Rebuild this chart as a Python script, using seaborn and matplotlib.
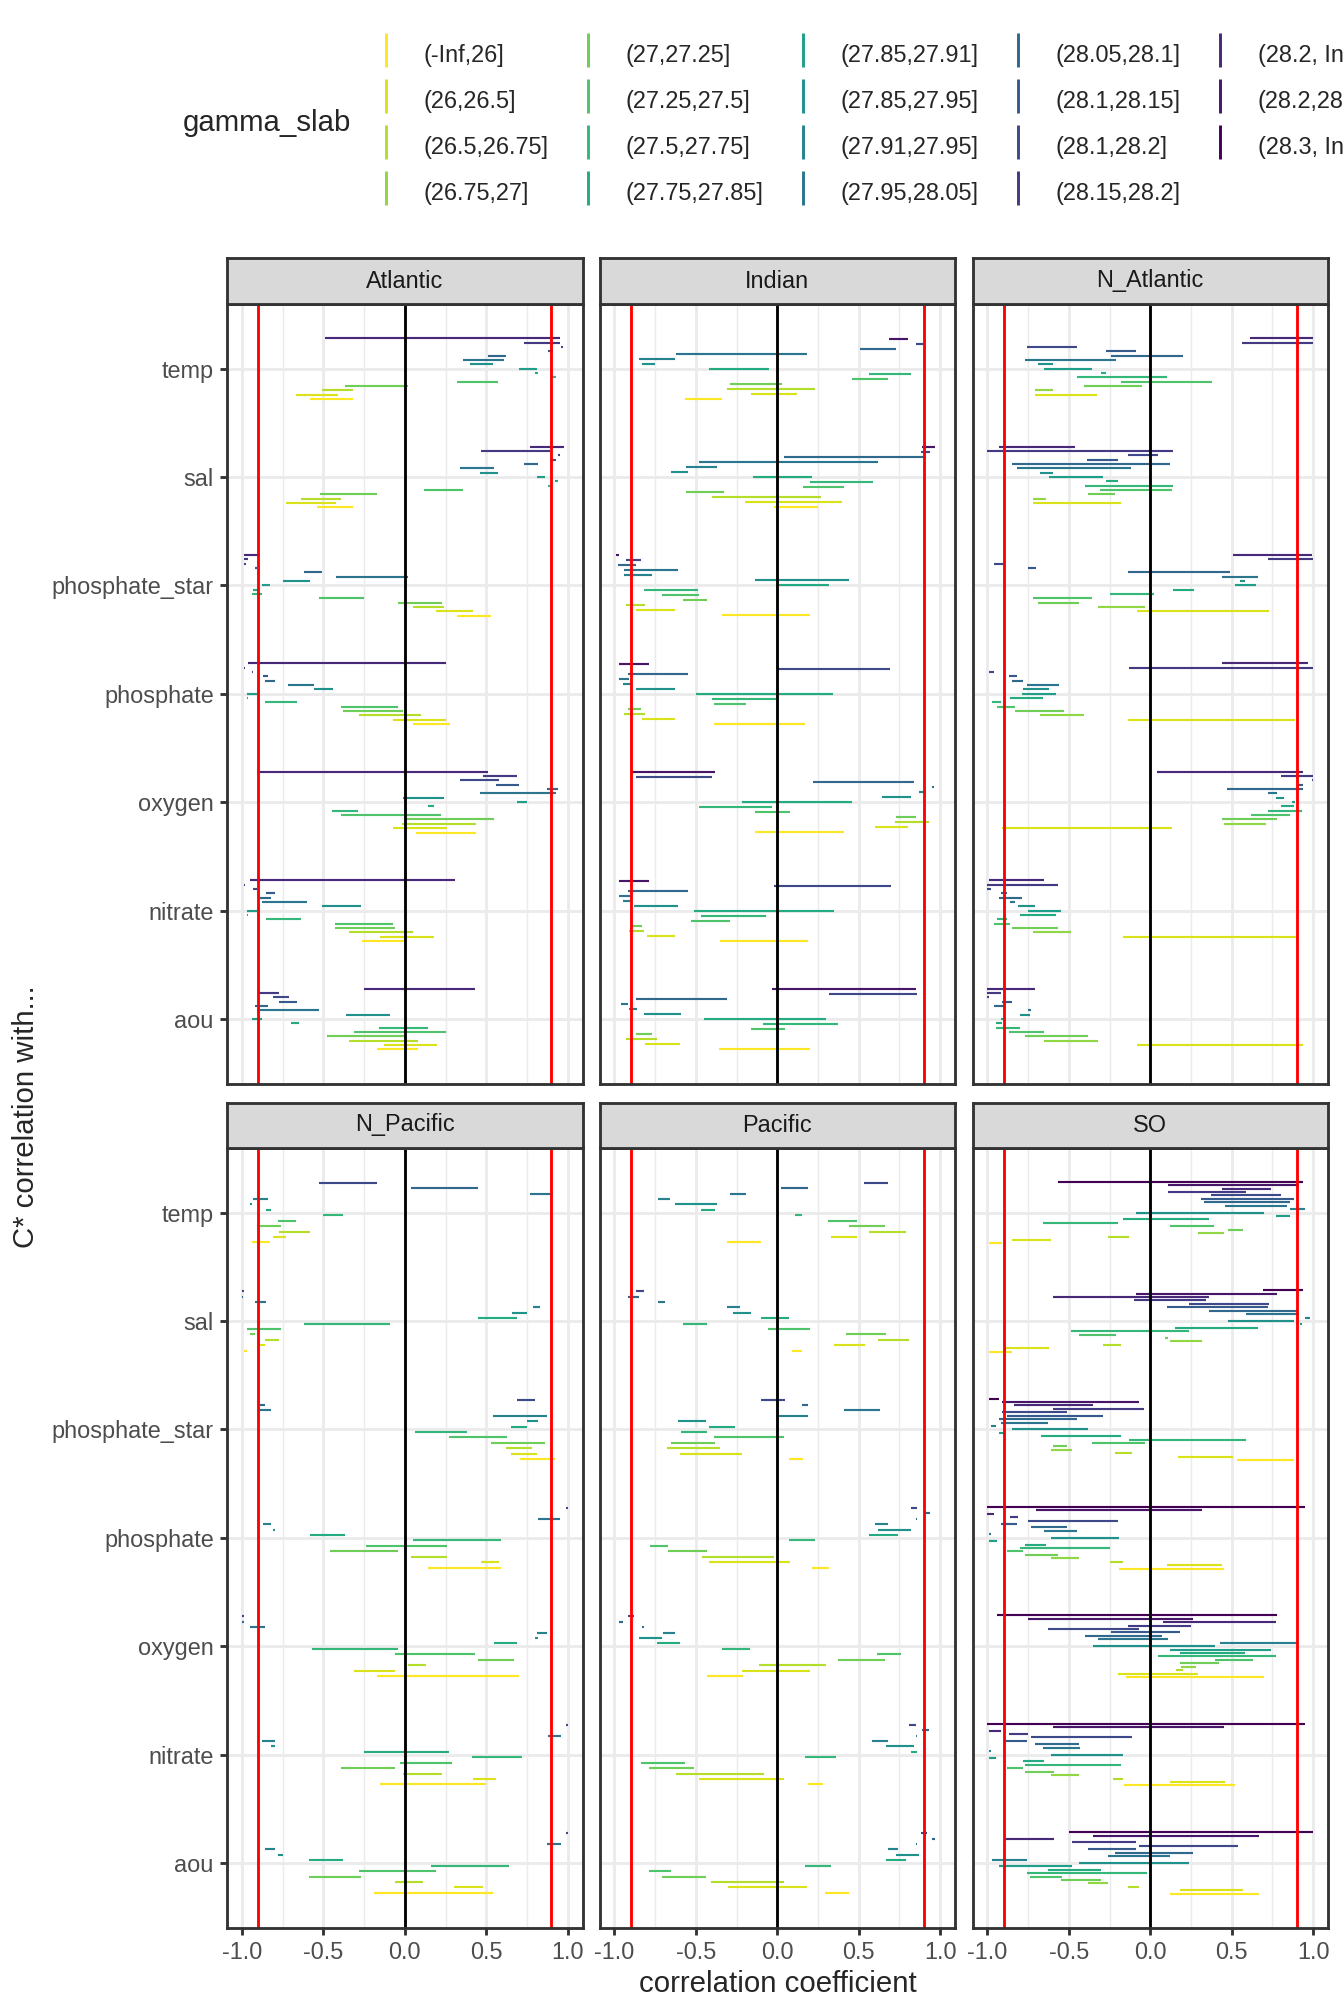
import numpy as np
import pandas as pd
import matplotlib
matplotlib.use("Agg")
import matplotlib.pyplot as plt
import seaborn as sns
from matplotlib.lines import Line2D

# ---------------- data ----------------
VARS = ["aou", "nitrate", "oxygen", "phosphate", "phosphate_star", "sal", "temp"]  # bottom -> top
BASINS = ["Atlantic", "Indian", "N_Atlantic", "N_Pacific", "Pacific", "SO"]
SLAB_LABELS = ["(-Inf,26]", "(26,26.5]", "(26.5,26.75]", "(26.75,27]", "(27,27.25]",
               "(27.25,27.5]", "(27.5,27.75]", "(27.75,27.85]", "(27.85,27.91]",
               "(27.85,27.95]", "(27.91,27.95]", "(27.95,28.05]", "(28.05,28.1]",
               "(28.1,28.15]", "(28.1,28.2]", "(28.15,28.2]", "(28.2, Inf]",
               "(28.2,28.3]", "(28.3, Inf]"]

# slab indices present in each basin, listed top row -> bottom row
ATLANTIC_SLABS = [16, 15, 14, 13, 12, 11, 9, 8, 7, 6, 5, 4, 2, 1, 0]
INDIAN_SLABS = [17, 14, 12, 11, 10, 9, 7, 6, 5, 4, 2, 1, 0]
N_ATLANTIC_SLABS = [16, 15, 14, 13, 12, 11, 9, 8, 7, 6, 5, 4, 3, 1, 0]
N_PACIFIC_SLABS = [14, 12, 11, 10, 9, 7, 6, 5, 4, 2, 1, 0]
PACIFIC_SLABS = [14, 12, 11, 10, 9, 7, 6, 5, 4, 2, 1, 0]
SO_SLABS = list(range(18, -1, -1))

# correlation ranges (min, max), rows ordered like the slab lists above
ATLANTIC = {
    "temp": [(-0.49, 0.95), (0.73, 0.95), (0.96, 0.97), (0.88, 0.91), (0.51, 0.62), (0.36, 0.61), (0.40, 0.54), (0.70, 0.81), (0.80, 0.82), (0.89, 0.93), (0.32, 0.57), (-0.37, 0.02), (-0.51, -0.32), (-0.67, -0.41), (-0.58, -0.32)],
    "sal": [(0.77, 0.98), (0.47, 0.89), (0.94, 0.95), (0.89, 0.93), (0.73, 0.82), (0.34, 0.55), (0.46, 0.57), (0.81, 0.86), (0.92, 0.94), (0.88, 0.90), (0.12, 0.36), (-0.52, -0.17), (-0.64, -0.39), (-0.73, -0.42), (-0.54, -0.32)],
    "phosphate_star": [(-0.99, -0.89), (-0.99, -0.96), (-0.985, -0.975), (-0.92, -0.91), (-0.62, -0.51), (-0.42, 0.02), (-0.75, -0.58), (-0.88, -0.83), (-0.93, -0.90), (-0.94, -0.88), (-0.53, -0.25), (-0.04, 0.23), (0.05, 0.24), (0.19, 0.42), (0.32, 0.53)],
    "phosphate": [(-0.96, 0.25), (-0.99, -0.98), (-0.94, -0.93), (-0.87, -0.84), (-0.86, -0.80), (-0.72, -0.56), (-0.56, -0.44), (-0.97, -0.91), (-0.97, -0.96), (-0.86, -0.66), (-0.39, -0.04), (-0.38, -0.01), (-0.28, 0.10), (-0.07, 0.25), (0.05, 0.28)],
    "oxygen": [(-0.91, 0.51), (0.48, 0.69), (0.34, 0.58), (0.56, 0.70), (0.87, 0.94), (0.46, 0.93), (-0.01, 0.24), (0.69, 0.75), (0.14, 0.18), (-0.45, -0.29), (-0.39, 0.22), (0.00, 0.55), (-0.02, 0.44), (-0.07, 0.26), (0.07, 0.44)],
    "nitrate": [(-0.95, 0.31), (-0.99, -0.98), (-0.93, -0.91), (-0.85, -0.80), (-0.89, -0.82), (-0.88, -0.60), (-0.51, -0.27), (-0.97, -0.91), (-0.97, -0.96), (-0.85, -0.64), (-0.43, -0.07), (-0.43, -0.06), (-0.34, 0.05), (-0.15, 0.18), (-0.26, 0.01)],
    "aou": [(-0.25, 0.43), (-0.90, -0.77), (-0.81, -0.71), (-0.77, -0.66), (-0.92, -0.84), (-0.91, -0.53), (-0.36, -0.09), (-0.94, -0.88), (-0.70, -0.65), (-0.16, 0.14), (-0.31, 0.25), (-0.48, 0.01), (-0.34, 0.08), (-0.13, 0.20), (-0.17, 0.08)],
}
INDIAN = {
    "temp": [(0.685, 0.80), (0.85, 0.90), (0.51, 0.73), (-0.62, 0.18), (-0.85, -0.63), (-0.83, -0.75), (-0.42, -0.05), (0.56, 0.82), (0.46, 0.68), (-0.29, 0.03), (-0.31, 0.23), (-0.16, 0.12), (-0.57, -0.34)],
    "sal": [(0.89, 0.97), (0.88, 0.94), (0.04, 0.91), (-0.48, 0.62), (-0.56, -0.37), (-0.65, -0.55), (-0.15, 0.21), (0.20, 0.59), (0.16, 0.41), (-0.56, -0.33), (-0.40, 0.27), (-0.20, 0.40), (-0.02, 0.25)],
    "phosphate_star": [(-0.99, -0.97), (-0.93, -0.84), (-0.98, -0.87), (-0.94, -0.61), (-0.94, -0.77), (-0.14, 0.44), (0.00, 0.32), (-0.82, -0.49), (-0.71, -0.48), (-0.58, -0.43), (-0.93, -0.81), (-0.87, -0.63), (-0.34, 0.20)],
    "phosphate": [(-0.97, -0.79), (0.00, 0.69), (-0.92, -0.55), (-0.97, -0.91), (-0.95, -0.89), (-0.87, -0.63), (-0.50, 0.34), (-0.40, -0.01), (-0.39, -0.19), (-0.92, -0.84), (-0.94, -0.81), (-0.83, -0.63), (-0.39, 0.17)],
    "oxygen": [(-0.90, -0.38), (-0.87, -0.40), (0.22, 0.84), (0.95, 0.96), (0.87, 0.91), (0.64, 0.82), (-0.22, 0.46), (-0.48, -0.03), (-0.14, 0.08), (0.73, 0.85), (0.72, 0.93), (0.60, 0.80), (-0.14, 0.41)],
    "nitrate": [(-0.97, -0.79), (-0.02, 0.70), (-0.92, -0.55), (-0.97, -0.90), (-0.95, -0.90), (-0.88, -0.61), (-0.51, 0.35), (-0.47, -0.07), (-0.53, -0.29), (-0.89, -0.83), (-0.91, -0.82), (-0.80, -0.63), (-0.35, 0.19)],
    "aou": [(-0.03, 0.85), (0.32, 0.86), (-0.87, -0.31), (-0.96, -0.92), (-0.91, -0.86), (-0.82, -0.59), (-0.45, 0.30), (-0.09, 0.37), (-0.16, 0.05), (-0.87, -0.77), (-0.93, -0.74), (-0.81, -0.60), (-0.36, 0.20)],
}
N_ATLANTIC = {
    "temp": [(0.61, 1.00), (0.56, 1.00), (-0.76, -0.45), (-0.27, -0.09), (-0.24, 0.20), (-0.77, -0.21), (-0.69, -0.60), (-0.65, -0.36), (-0.30, -0.27), (-0.45, 0.10), (-0.18, 0.38), (-0.41, -0.05), (-0.71, -0.60), (-0.71, -0.33), None],
    "sal": [(-0.93, -0.46), (-1.00, 0.14), (-0.14, 0.05), (-0.39, -0.20), (-0.85, 0.12), (-0.82, -0.12), (-0.68, -0.60), (-0.62, -0.29), (-0.27, -0.20), (-0.40, 0.14), (-0.31, 0.13), (-0.38, -0.22), (-0.72, -0.64), (-0.72, -0.18), None],
    "phosphate_star": [(0.51, 0.99), (0.72, 1.00), (-0.96, -0.89), (-0.75, -0.70), (-0.14, 0.49), (0.44, 0.66), (0.55, 0.58), (0.52, 0.65), (0.14, 0.27), (-0.25, 0.02), (-0.72, -0.36), (-0.69, -0.44), (-0.32, -0.03), (-0.08, 0.73), None],
    "phosphate": [(0.44, 0.97), (-0.13, 1.00), (-0.99, -0.96), (-0.87, -0.82), (-0.85, -0.78), (-0.76, -0.56), (-0.78, -0.62), (-0.79, -0.58), (-0.86, -0.66), (-0.97, -0.92), (-0.94, -0.83), (-0.83, -0.53), (-0.68, -0.41), (-0.14, 0.89), None],
    "oxygen": [(0.04, 0.94), (0.80, 1.00), (0.99, 1.00), (0.90, 0.94), (0.47, 0.94), (0.72, 0.78), (0.77, 0.82), (0.87, 0.89), (0.80, 0.88), (0.72, 0.93), (0.62, 0.86), (0.44, 0.78), (0.45, 0.71), (-0.91, 0.13), None],
    "nitrate": [(-0.99, -0.65), (-1.00, -0.57), (-1.00, -0.98), (-0.92, -0.88), (-0.93, -0.79), (-0.86, -0.83), (-0.81, -0.71), (-0.75, -0.55), (-0.80, -0.58), (-0.94, -0.88), (-0.96, -0.86), (-0.85, -0.57), (-0.72, -0.49), (-0.17, 0.90), None],
    "aou": [(-1.00, -0.71), (-1.00, -0.92), (-1.00, -0.99), (-0.91, -0.85), (-0.96, -0.90), (-0.75, -0.73), (-0.80, -0.74), (-0.92, -0.90), (-0.95, -0.91), (-0.95, -0.80), (-0.87, -0.65), (-0.77, -0.38), (-0.65, -0.32), (-0.08, 0.94), None],
}
N_PACIFIC = {
    "temp": [(-0.53, -0.17), (0.04, 0.45), (0.77, 0.91), (-0.93, -0.84), (-0.95, -0.94), (-0.85, -0.82), (-0.50, -0.38), (-0.78, -0.67), (-0.90, -0.76), (-0.77, -0.58), (-0.81, -0.73), (-0.94, -0.83)],
    "sal": [(-1.00, -0.99), (-1.00, -0.995), (-0.92, -0.85), (0.79, 0.83), (0.66, 0.75), (0.45, 0.69), (-0.62, -0.09), (-0.97, -0.76), (-0.95, -0.92), (-0.86, -0.77), (-0.90, -0.86), (-0.99, -0.97)],
    "phosphate_star": [(0.69, 0.80), (-0.89, -0.86), (-0.90, -0.82), (0.54, 0.87), (0.75, 0.82), (0.65, 0.75), (0.06, 0.38), (0.27, 0.63), (0.53, 0.86), (0.62, 0.78), (0.65, 0.81), (0.71, 0.92)],
    "phosphate": [(0.99, 1.00), None, (0.82, 0.95), (-0.87, -0.82), (-0.81, -0.80), (-0.58, -0.37), (0.05, 0.59), (-0.24, 0.26), (-0.46, -0.04), (0.04, 0.26), (0.47, 0.58), (0.14, 0.59)],
    "oxygen": [(-1.00, -0.99), (-1.00, -0.99), (-0.95, -0.86), (0.81, 0.87), (0.80, 0.82), (0.55, 0.69), (-0.57, -0.04), (-0.06, 0.43), (0.45, 0.67), (0.02, 0.13), (-0.31, -0.06), (-0.17, 0.70)],
    "nitrate": [(0.99, 1.00), None, (0.88, 0.96), (-0.88, -0.80), (-0.82, -0.80), (-0.25, 0.27), (0.41, 0.72), (-0.03, 0.29), (-0.39, -0.06), (-0.01, 0.23), (0.42, 0.56), (-0.15, 0.50)],
    "aou": [(0.99, 1.00), None, (0.87, 0.96), (-0.86, -0.80), (-0.78, -0.75), (-0.59, -0.38), (0.16, 0.64), (-0.28, 0.19), (-0.59, -0.27), (-0.06, 0.11), (0.30, 0.48), (-0.19, 0.54)],
}
PACIFIC = {
    "temp": [(0.53, 0.68), (0.02, 0.19), (-0.29, -0.19), (-0.73, -0.66), (-0.63, -0.37), (-0.47, -0.38), (0.11, 0.15), (0.31, 0.49), (0.44, 0.66), (0.56, 0.79), (0.33, 0.49), (-0.31, -0.10)],
    "sal": [(-0.87, -0.82), (-0.92, -0.85), (-0.73, -0.69), (-0.31, -0.23), (-0.27, -0.16), (-0.10, 0.07), (-0.58, -0.43), (-0.06, 0.20), (0.42, 0.67), (0.62, 0.81), (0.35, 0.54), (0.09, 0.15)],
    "phosphate_star": [(-0.10, 0.05), (0.15, 0.19), (0.41, 0.63), (-0.01, 0.19), (-0.61, -0.44), (-0.42, -0.26), (-0.59, -0.43), (-0.39, 0.04), (-0.65, -0.38), (-0.68, -0.35), (-0.60, -0.22), (0.07, 0.16)],
    "phosphate": [(0.82, 0.86), (0.90, 0.94), (0.85, 0.86), (0.60, 0.68), (0.62, 0.82), (0.56, 0.74), (0.07, 0.23), (-0.78, -0.67), (-0.67, -0.43), (-0.46, -0.02), (-0.42, 0.08), (0.21, 0.32)],
    "oxygen": [(-0.92, -0.88), (-0.97, -0.95), (-0.83, -0.82), (-0.70, -0.63), (-0.85, -0.71), (-0.74, -0.60), (-0.34, -0.17), (0.61, 0.76), (0.37, 0.66), (-0.11, 0.30), (-0.22, 0.20), (-0.43, -0.21)],
    "nitrate": [(0.81, 0.85), (0.89, 0.93), (0.85, 0.86), (0.58, 0.68), (0.67, 0.84), (0.82, 0.86), (0.17, 0.36), (-0.84, -0.57), (-0.79, -0.51), (-0.62, -0.08), (-0.48, 0.04), (0.19, 0.28)],
    "aou": [(0.88, 0.92), (0.95, 0.97), (0.85, 0.855), (0.68, 0.74), (0.73, 0.87), (0.67, 0.79), (0.17, 0.33), (-0.79, -0.65), (-0.71, -0.44), (-0.41, 0.04), (-0.30, 0.18), (0.29, 0.44)],
}
SO = {
    "temp": [(-0.57, 0.94), (0.11, 0.91), (0.44, 0.74), (0.11, 0.59), (0.37, 0.80), (0.31, 0.88), (0.33, 0.86), (0.46, 0.84), (0.86, 0.95), (-0.09, 0.70), (0.77, 0.86), (-0.17, 0.36), (-0.66, -0.20), (0.12, 0.39), (0.48, 0.57), (0.29, 0.45), (-0.26, -0.13), (-0.85, -0.61), (-0.99, -0.91)],
    "sal": [(0.69, 0.94), (-0.09, 0.78), (-0.60, 0.36), (-0.10, 0.34), (0.24, 0.73), (0.10, 0.72), (0.36, 0.90), (0.59, 0.91), (0.95, 0.98), (0.48, 0.88), (0.92, 0.93), (0.15, 0.66), (-0.49, 0.24), (-0.44, -0.21), (0.09, 0.11), (0.12, 0.32), (-0.29, -0.18), (-0.89, -0.62), (-0.99, -0.85)],
    "phosphate_star": [(-0.99, -0.93), (-0.91, -0.07), (-0.84, -0.35), (-0.60, -0.04), (-0.91, -0.51), (-0.88, -0.29), (-0.93, -0.45), (-0.92, -0.63), (-0.98, -0.95), (-0.85, -0.38), (-0.93, -0.90), (-0.67, -0.18), (-0.13, 0.59), (-0.36, -0.03), (-0.60, -0.51), (-0.61, -0.48), (-0.22, -0.11), (0.17, 0.51), (0.53, 0.88)],
    "phosphate": [(-1.00, 0.95), (-0.70, 0.32), (-1.00, -0.96), (-0.86, -0.81), (-0.75, -0.20), (-0.92, -0.82), (-0.73, -0.51), (-0.65, -0.45), (-0.99, -0.98), (-0.61, -0.19), (-0.99, -0.94), (-0.77, -0.64), (-0.80, -0.25), (-0.88, -0.78), (-0.77, -0.57), (-0.61, -0.44), (-0.25, -0.17), (0.10, 0.44), (-0.19, 0.45)],
    "oxygen": [(-0.94, 0.78), (-0.75, 0.26), (0.08, 0.77), (-0.14, 0.25), (-0.63, -0.07), (-0.24, 0.18), (-0.40, 0.07), (-0.32, 0.11), (0.43, 0.90), (-0.35, 0.40), (0.12, 0.74), (0.18, 0.58), (0.05, 0.77), (0.40, 0.63), (0.18, 0.42), (0.19, 0.28), (0.16, 0.20), (-0.20, 0.29), (-0.15, 0.70)],
    "nitrate": [(-1.00, 0.95), (-0.60, 0.45), (-0.99, -0.92), (-0.87, -0.75), (-0.73, -0.11), (-0.90, -0.76), (-0.71, -0.44), (-0.66, -0.43), (-0.99, -0.98), (-0.61, -0.17), (-0.99, -0.95), (-0.78, -0.65), (-0.77, -0.18), (-0.88, -0.78), (-0.77, -0.59), (-0.61, -0.44), (-0.23, -0.17), (0.12, 0.46), (-0.16, 0.52)],
    "aou": [(-0.50, 1.00), (-0.35, 0.67), (-0.90, -0.59), (-0.48, -0.09), (-0.07, 0.54), (-0.38, -0.09), (-0.22, 0.26), (-0.26, 0.12), (-0.97, -0.76), (-0.44, 0.24), (-0.93, -0.48), (-0.63, -0.30), (-0.76, -0.02), (-0.74, -0.54), (-0.55, -0.30), (-0.38, -0.26), (-0.14, -0.07), (0.18, 0.57), (0.12, 0.67)],
}

PANELS = {
    "Atlantic": (ATLANTIC_SLABS, ATLANTIC),
    "Indian": (INDIAN_SLABS, INDIAN),
    "N_Atlantic": (N_ATLANTIC_SLABS, N_ATLANTIC),
    "N_Pacific": (N_PACIFIC_SLABS, N_PACIFIC),
    "Pacific": (PACIFIC_SLABS, PACIFIC),
    "SO": (SO_SLABS, SO),
}

PALETTE = [matplotlib.colors.to_hex(c) for c in matplotlib.colormaps["viridis"](np.linspace(0, 1, 19))[::-1]]
DODGE = 0.6

rows = []
for basin, (slabs, ranges) in PANELS.items():
    n = len(slabs)
    for v_i, var in enumerate(VARS):
        for k, (slab, rng) in enumerate(zip(slabs, ranges[var])):
            if rng is None:
                continue
            slot = n - 1 - k
            rows.append(dict(basin=basin, var=var, slab=slab,
                             y=v_i + 1 + (slot - (n - 1) / 2) * DODGE / n,
                             lo=rng[0], hi=rng[1], color=PALETTE[slab]))
df = pd.DataFrame(rows)

# ---------------- plot ----------------
sns.set_theme(style="white")
plt.rcParams["font.family"] = ["Liberation Sans", "DejaVu Sans"]

W, H = 1344, 2016
DPI = 192
g = sns.FacetGrid(df, col="basin", col_order=BASINS, col_wrap=3, sharex=True, sharey=True,
                  height=3, aspect=0.5, despine=False)
fig = g.figure
fig.set_size_inches(W / DPI, H / DPI)


def draw(data, **kw):
    ax = plt.gca()
    ax.hlines(data["y"], data["lo"], data["hi"], colors=list(data["color"]),
              linewidth=0.8, capstyle="butt", zorder=2)


g.map_dataframe(draw)
g.set_titles("")
g.set_axis_labels("", "")

LW = 1.07
panel_lefts = [227, 599.5, 972.5]
panel_w = 355.5
row_tops = [303.5, 1147.5]
panel_h = 780.5
strip_h = 45

for idx, ax in enumerate(g.axes.flat):
    r, c = divmod(idx, 3)
    L, T = panel_lefts[c], row_tops[r]
    ax.set_position([L / W, 1 - (T + panel_h) / H, panel_w / W, panel_h / H])
    ax.set_facecolor("white")
    ax.set_xlim(-1.092, 1.091)
    ax.set_ylim(0.4, 7.6)
    ax.set_xticks([-1, -0.5, 0, 0.5, 1])
    ax.set_xticklabels(["-1.0", "-0.5", "0.0", "0.5", "1.0"])
    ax.set_xticks([-0.75, -0.25, 0.25, 0.75], minor=True)
    ax.set_yticks(range(1, 8))
    ax.set_yticklabels(VARS)
    ax.grid(which="major", color="#EBEBEB", linewidth=LW)
    ax.grid(which="minor", axis="x", color="#EBEBEB", linewidth=LW / 2)
    ax.set_axisbelow(True)
    for s in ax.spines.values():
        s.set_color("#333333")
        s.set_linewidth(LW)
        s.set_zorder(5)
    for xv, col in [(-0.9, "red"), (0.9, "red"), (0.0, "black")]:
        ax.axvline(xv, color=col, linewidth=LW, zorder=3)
    ax.tick_params(which="major", length=2.75, width=LW, color="#333333",
                   labelcolor="#4D4D4D", labelsize=8.8, pad=2.2)
    ax.tick_params(which="minor", length=0)
    ax.tick_params(axis="y", left=(c == 0), labelleft=(c == 0))
    ax.tick_params(axis="x", bottom=(r == 1), labelbottom=(r == 1))
    for lab in ax.get_yticklabels():
        lab.set_visible(c == 0)
    for lab in ax.get_xticklabels():
        lab.set_visible(r == 1)

    # facet strip
    sax = fig.add_axes([L / W, 1 - T / H, panel_w / W, strip_h / H])
    sax.set_facecolor("#D9D9D9")
    sax.set_xticks([])
    sax.set_yticks([])
    for s in sax.spines.values():
        s.set_color("#333333")
        s.set_linewidth(LW)
    sax.text(0.5, 0.5, BASINS[idx], ha="center", va="center", fontsize=8.8,
             color="#1A1A1A", transform=sax.transAxes)

fig.text(26 / W, 1 - 1117 / H, "C* correlation with...", rotation=90,
         ha="center", va="center", fontsize=11)
fig.text(777.5 / W, 1 - 1984 / H, "correlation coefficient", ha="center",
         va="center", fontsize=11)

# legend
handles = [Line2D([0], [0], color=PALETTE[i], marker="|", linestyle="None",
                  markersize=12.5, markeredgewidth=1.1) for i in range(19)]
fig.legend(handles, SLAB_LABELS, ncol=5, loc="upper left",
           bbox_to_anchor=(363 / W, 1 - 37 / H), frameon=False, fontsize=8.8,
           handlelength=1.96, handleheight=1.96, handletextpad=0.63,
           columnspacing=0.69, labelspacing=0.44, borderpad=0.0, borderaxespad=0.0)
fig.text(183 / W, 1 - 123 / H, "gamma_slab", ha="left", va="center", fontsize=11)

fig.savefig("out.png", dpi=DPI)
